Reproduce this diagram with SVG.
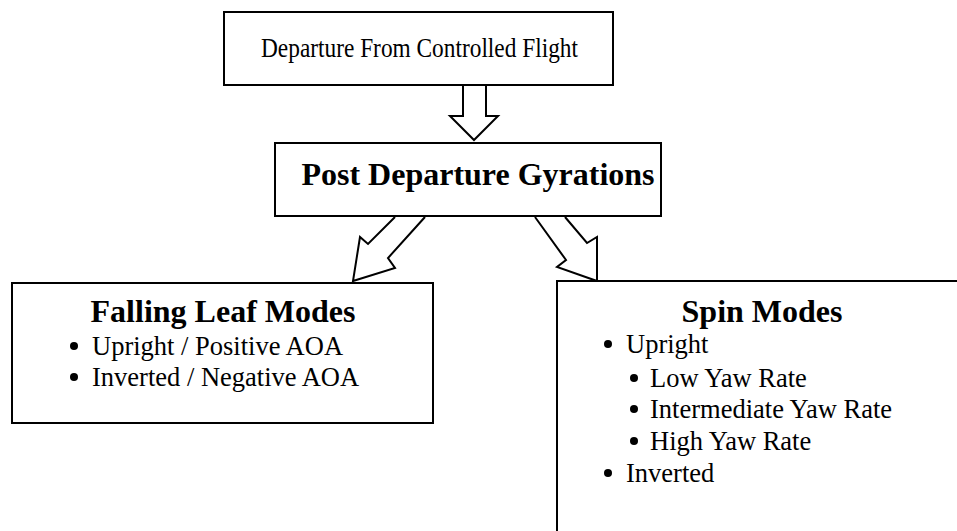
<svg xmlns="http://www.w3.org/2000/svg" width="957" height="531" viewBox="0 0 957 531">
<style>
.box{fill:#fff;stroke:#000;stroke-width:2}
.arr{fill:#fff;stroke:#000;stroke-width:2;stroke-linejoin:miter}
.t{font-family:"Liberation Serif","Times New Roman",serif;fill:#000}
.h{font-weight:bold;font-size:32px}
.r{font-size:26.5px}
.b{fill:#000}
</style>
<rect width="957" height="531" fill="#fff"/>
<g id="connectors">
<path class="arr" d="M463,85 L463,116 L450,116 L474,140 L498,116 L486,116 L486,85"/>
<path class="arr" d="M395,217 L368,244 L360,237 L353,281 L395,268 L388,258 L425,217"/>
<path class="arr" d="M535,217 L566,260 L557,267 L597,281 L597,237 L587,243 L565,217"/>
</g>
<g id="node-departure">
<rect class="box" x="224" y="12" width="389" height="73"/>
<text class="t" x="261" y="57" font-size="27.5" textLength="317" lengthAdjust="spacingAndGlyphs">Departure From Controlled Flight</text>
</g>
<g id="node-post">
<rect class="box" x="275" y="143" width="386" height="73"/>
<text class="t h" x="478" y="185" text-anchor="middle">Post Departure Gyrations</text>
</g>
<g id="node-falling">
<rect class="box" x="12" y="283" width="421" height="140"/>
<text class="t h" x="223" y="322" text-anchor="middle">Falling Leaf Modes</text>
<circle class="b" cx="74" cy="346" r="4"/>
<text class="t r" x="92" y="355">Upright / Positive AOA</text>
<circle class="b" cx="74" cy="377" r="4"/>
<text class="t r" x="92" y="386">Inverted / Negative AOA</text>
</g>
<g id="node-spin">
<rect class="box" x="557" y="281" width="410" height="270"/>
<text class="t h" x="762" y="322" text-anchor="middle">Spin Modes</text>
<circle class="b" cx="608" cy="344" r="4"/>
<text class="t r" x="626" y="353">Upright</text>
<circle class="b" cx="634" cy="378" r="4"/>
<text class="t r" x="650" y="387">Low Yaw Rate</text>
<circle class="b" cx="634" cy="409" r="4"/>
<text class="t r" x="650" y="418">Intermediate Yaw Rate</text>
<circle class="b" cx="634" cy="441" r="4"/>
<text class="t r" x="650" y="450">High Yaw Rate</text>
<circle class="b" cx="608" cy="473" r="4"/>
<text class="t r" x="626" y="482">Inverted</text>
</g>
</svg>
